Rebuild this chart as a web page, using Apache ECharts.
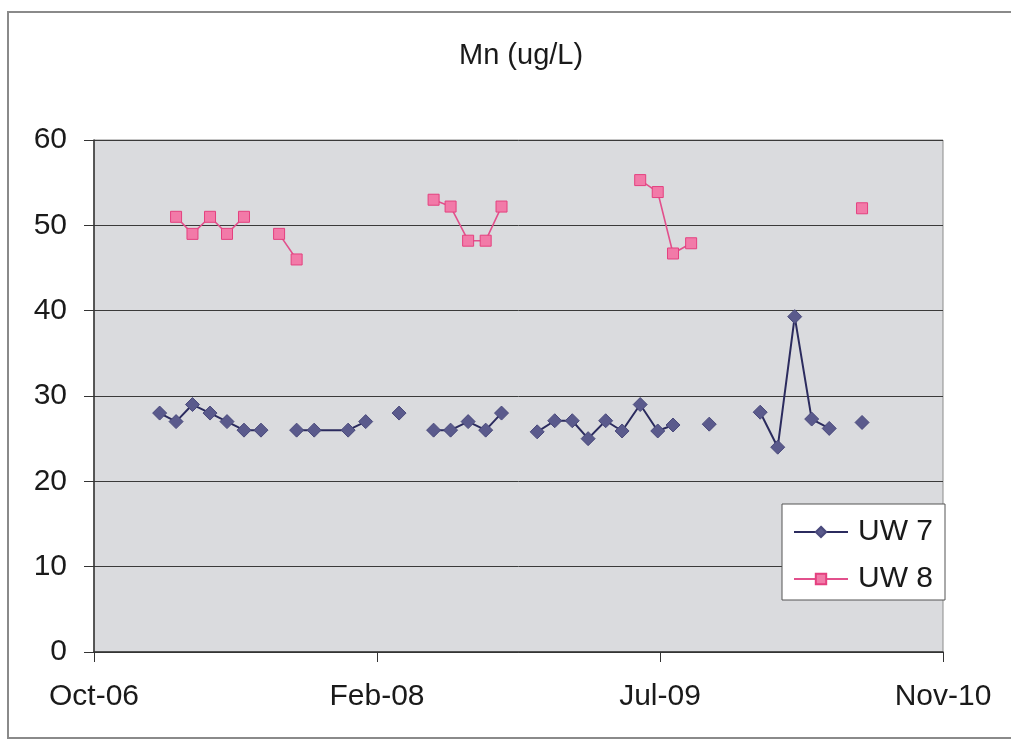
<!DOCTYPE html>
<html>
<head>
<meta charset="utf-8">
<script src="https://cdn.jsdelivr.net/npm/echarts@6/dist/echarts.min.js"></script>
<style>
html,body{margin:0;padding:0;background:#fff;}
#chart{width:1011px;height:744px;}
</style>
</head>
<body>
<div id="chart"></div>
<script>
// Sampling dates (rows of the source table)
const dates = [
  '2007-02-03','2007-03-04','2007-04-02','2007-05-03','2007-06-02','2007-07-02','2007-08-01',
  '2007-09-02','2007-10-03','2007-11-03','2008-01-02','2008-02-02','2008-03-03','2008-04-01',
  '2008-05-02','2008-06-01','2008-07-01','2008-08-01','2008-09-01','2008-09-29','2008-11-01',
  '2008-12-01','2009-01-01','2009-02-01','2009-03-01','2009-04-01','2009-04-30','2009-06-01',
  '2009-07-02','2009-07-29','2009-08-30','2009-10-01','2009-11-01','2009-12-30','2010-01-30',
  '2010-03-01','2010-03-31','2010-05-01','2010-06-01','2010-06-28'
];
// Mn (ug/L), null = not sampled
const uw7 = [
  28, 27, 29, 28, 27, 26, 26,
  null, 26, 26, 26, 27, null, 28,
  null, 26, 26, 27, 26, 28, null,
  25.8, 27.1, 27.1, 25, 27.1, 25.9, 29,
  25.9, 26.6, null, 26.7, null, 28.1, 24,
  39.3, 27.3, 26.2, null, 26.9
];
const uw8 = [
  null, 51, 49, 51, 49, 51, null,
  49, 46, null, null, null, null, null,
  null, 53, 52.2, 48.2, 48.2, 52.2, null,
  null, null, null, null, null, null, 55.3,
  53.9, 46.7, 47.9, null, null, null, null,
  null, null, null, null, 52
];
const seriesNames = ['UW 7', 'UW 8'];
const xTicks = {min: 39000, max: 40500, interval: 500}; // Excel serial days: Oct-06 .. Nov-10
const yTicks = {min: 0, max: 60, interval: 10};
const title = 'Mn (ug/L)';

const EPOCH = Date.UTC(1899, 11, 30);
const DAY = 86400000;
function serial(s) {
  const p = s.split('-').map(Number);
  return (Date.UTC(p[0], p[1] - 1, p[2]) - EPOCH) / DAY;
}
const MON = ['Jan','Feb','Mar','Apr','May','Jun','Jul','Aug','Sep','Oct','Nov','Dec'];
function fmt(v) {
  const d = new Date(EPOCH + v * DAY);
  return MON[d.getUTCMonth()] + '-' + String(d.getUTCFullYear() % 100).padStart(2, '0');
}
function pairs(vals) {
  return dates.map((d, i) => [serial(d), vals[i] == null ? '-' : vals[i]]);
}

const FONT = '"Liberation Sans", Arial, sans-serif';
const chart = echarts.init(document.getElementById('chart'), null, {renderer: 'canvas'});
chart.setOption({
  backgroundColor: '#ffffff',
  animation: false,
  title: {
    text: title, left: 454, top: 36,
    textStyle: {fontFamily: FONT, fontSize: 29, fontWeight: 'normal', color: '#1a1a1a'}
  },
  graphic: [{
    type: 'rect', shape: {x: 8, y: 12, width: 1020, height: 726},
    style: {fill: 'none', stroke: '#8a8a8a', lineWidth: 2}, silent: true, z: -1
  }],
  grid: {
    left: 94, right: 68, top: 140, bottom: 92,
    show: true, backgroundColor: '#dadbde', borderColor: '#8c8c8c', borderWidth: 1
  },
  xAxis: {
    type: 'value', min: xTicks.min, max: xTicks.max, interval: xTicks.interval,
    axisLine: {show: true, onZero: false, lineStyle: {color: '#333', width: 1.5}},
    axisTick: {show: true, inside: false, length: 10, lineStyle: {color: '#333'}},
    axisLabel: {formatter: fmt, fontFamily: FONT, fontSize: 30, color: '#1a1a1a', margin: 30},
    splitLine: {show: false}
  },
  yAxis: {
    type: 'value', min: yTicks.min, max: yTicks.max, interval: yTicks.interval,
    axisLine: {show: true, lineStyle: {color: '#333', width: 1.5}},
    axisTick: {show: true, inside: false, length: 10, lineStyle: {color: '#333'}},
    axisLabel: {fontFamily: FONT, fontSize: 30, color: '#1a1a1a', margin: 27},
    splitLine: {show: true, lineStyle: {color: '#3a3a3a', width: 1}}
  },
  legend: {
    orient: 'vertical', left: 782, top: 504,
    data: seriesNames,
    backgroundColor: '#ffffff', borderColor: '#555', borderWidth: 1,
    padding: [13, 12, 6, 11], itemGap: 17, itemWidth: 54, itemHeight: 13,
    textStyle: {fontFamily: FONT, fontSize: 30, color: '#1a1a1a', lineHeight: 30, padding: [0, 0, 0, 5]}
  },
  series: [
    {
      name: seriesNames[0], type: 'line', data: pairs(uw7), connectNulls: false,
      symbol: 'diamond', symbolSize: 14,
      lineStyle: {color: '#2b2b5e', width: 2},
      itemStyle: {color: '#5a5a8c', borderColor: '#4a4a7c', borderWidth: 1}
    },
    {
      name: seriesNames[1], type: 'line', data: pairs(uw8), connectNulls: false,
      symbol: 'rect', symbolSize: 11,
      lineStyle: {color: '#e2508c', width: 1.6},
      itemStyle: {color: '#f27aa8', borderColor: '#e4407f', borderWidth: 1}
    }
  ]
});
</script>
</body>
</html>
